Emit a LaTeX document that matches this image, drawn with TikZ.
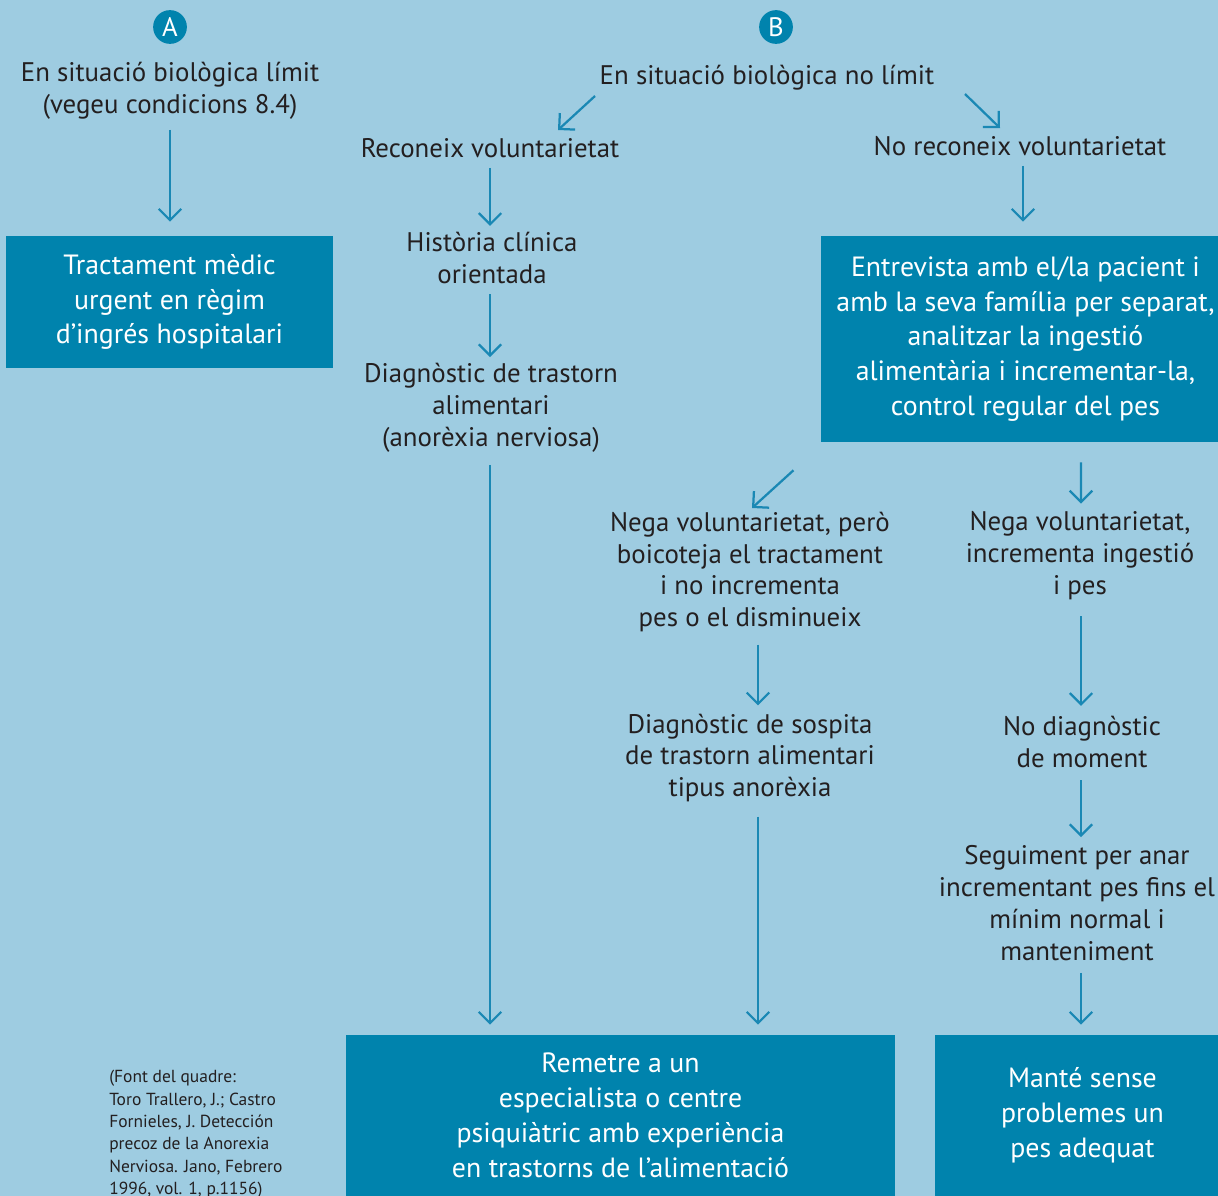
\documentclass[tikz,border=0pt]{standalone}
\usepackage{fontspec}
\setmainfont{PT Sans}
\usepackage{tikz}
\usetikzlibrary{arrows.meta,calc}
\definecolor{cBack}{HTML}{9ECCE1}
\definecolor{cBox}{HTML}{0083AD}
\definecolor{cArr}{HTML}{1A88B4}
\definecolor{cInk}{HTML}{231F20}
\tikzset{
  txt/.style={align=center,inner sep=0pt,text=cInk,font=\fontsize{19.1}{22.7}\selectfont},
  dbox/.style={fill=cBox,inner sep=0pt,align=center,text=white,font=\fontsize{19.8}{24.8}\selectfont},
  arr/.style={-{Straight Barb[length=8pt,width=16pt,line width=1.6pt]},line width=1.6pt,color=cArr},
  circ/.style={circle,fill=cBox,text=white,inner sep=0pt,minimum size=24pt,font=\fontsize{19}{20}\selectfont},
  src/.style={align=left,inner sep=0pt,text=cInk,font=\fontsize{12.4}{15.9}\selectfont},
}

\begin{document}
\begin{tikzpicture}[x=0.025cm,y=-0.025cm]
  \fill[cBack] (0,0) rectangle (1218,1196);
  \useasboundingbox (0,0) rectangle (1218,1196);
  % heads
  \node[circ] (ca) at (170,27) {A};
  \node[circ] (cb) at (776,27) {B};
  % branch A
  \node[txt] (atext) at (170,91) {En situació biològica límit\\(vegeu condicions 8.4)};
  \node[dbox,minimum width=327*0.025cm,minimum height=132*0.025cm] (box1) at (169.5,302) {Tractament mèdic\\urgent en règim\\d’ingrés hospitalari};
  \draw[arr] ($(atext.south)+(0,10)$) -- ($(atext.south |- box1.north)+(0,-14)$);
  % branch B
  \node[txt] (bno) at (767,78) {En situació biològica no límit};
  \node[txt] (recon) at (490,148) {Reconeix voluntarietat};
  \node[txt] (norecon) at (1020,146) {No reconeix voluntarietat};
  \draw[arr] ($(bno)+(-172,18)$) -- ($(recon)+(68,-18)$);
  \draw[arr] ($(bno)+(198,16)$) -- ($(norecon)+(-20,-18)$);
  % left column
  \node[txt] (hist) at (492,258) {Història clínica\\orientada};
  \node[txt] (diag) at (491,408) {Diagnòstic de trastorn\\alimentari\\(anorèxia nerviosa)};
  \draw[arr] ($(recon.south)+(0,10)$) -- ($(recon.south |- hist.north)+(0,-6)$);
  \draw[arr] ($(hist.south)+(-2,10)$) -- ($(hist.south |- diag.north)+(-2,-6)$);
  % right column
  \node[dbox,minimum width=409*0.025cm,minimum height=206*0.025cm] (box2) at (1025.5,339) {Entrevista amb el/la pacient i\\amb la seva família per separat,\\analitzar la ingestió\\alimentària i incrementar-la,\\control regular del pes};
  \draw[arr] ($(norecon.south)+(3,10)$) -- ($(norecon.south |- box2.north)+(3,-14)$);
  \node[txt] (nega1) at (750,572) {Nega voluntarietat, però\\boicoteja el tractament\\i no incrementa\\pes o el disminueix};
  \node[txt] (nega2) at (1080,556) {Nega voluntarietat,\\incrementa ingestió\\i pes};
  \draw[arr] ($(box2.south)+(-232,28)$) -- ($(nega1)+(2,-64)$);
  \draw[arr] ($(box2.south)+(55.5,20)$) -- ($(nega2.north)+(1,-8)$);
  \node[txt] (sosp) at (750,758) {Diagnòstic de sospita\\de trastorn alimentari\\tipus anorèxia};
  \node[txt] (nodiag) at (1082,742) {No diagnòstic\\de moment};
  \node[txt] (segu) at (1077,903) {Seguiment per anar\\incrementant pes fins el\\mínim normal i\\manteniment};
  \draw[arr] ($(nega1.south)+(8,12)$) -- ($(nega1.south |- sosp.north)+(8,-8)$);
  \draw[arr] ($(nega2.south)+(1,16)$) -- ($(nega2.south |- nodiag.north)+(1,-10)$);
  \draw[arr] ($(nodiag.south)+(-1,12)$) -- ($(nodiag.south |- segu.north)+(-1,-8)$);
  % bottom boxes
  \node[dbox,minimum width=549*0.025cm,minimum height=161*0.025cm] (box3) at (620.5,1115.5) {Remetre a un\\especialista o centre\\psiquiàtric amb experiència\\en trastorns de l’alimentació};
  \node[dbox,minimum width=295*0.025cm,minimum height=161*0.025cm] (box4) at (1082.5,1115.5) {Manté sense\\problemes un\\pes adequat};
  \draw[arr] ($(diag.south)+(-1,12)$) -- ($(diag.south |- box3.north)+(-1,-10)$);
  \draw[arr] ($(sosp.south)+(8,14)$) -- ($(sosp.south |- box3.north)+(8,-10)$);
  \draw[arr] ($(segu.south)+(4,12)$) -- ($(segu.south |- box4.north)+(4,-10)$);
  % source
  \node[src,anchor=north west] (font) at (109,1070) {(Font del quadre:\\Toro Trallero, J.; Castro\\Fornieles, J. Detección\\precoz de la Anorexia\\Nerviosa. Jano, Febrero\\1996, vol. 1, p.1156)};
\end{tikzpicture}
\end{document}
